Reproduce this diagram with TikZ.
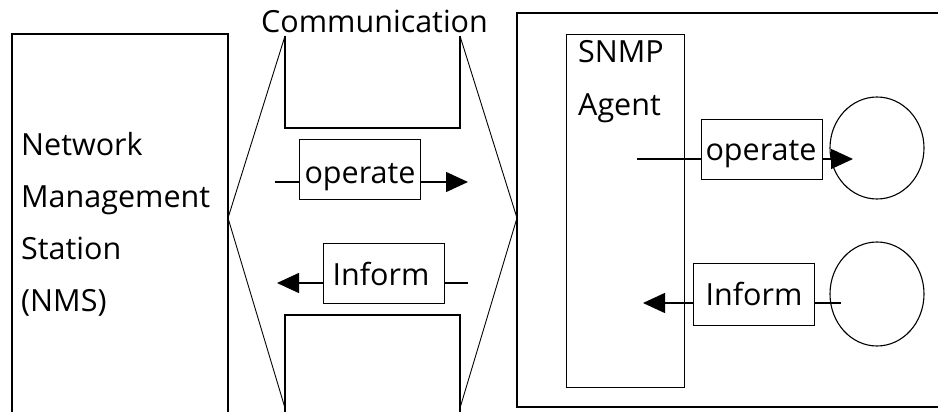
\documentclass[tikz,border=0pt]{standalone}
\usepackage{fontspec}
\setmainfont{Open Sans}
\usetikzlibrary{arrows.meta,shapes.geometric}
\begin{document}
\begin{tikzpicture}[x=1pt,y=-1pt,
  txt/.style={inner sep=0pt,font=\fontsize{30.5pt}{36pt}\selectfont},
  frame/.style={line width=1.4pt},
  boxn/.style={draw,line width=1.4pt,inner sep=0pt,anchor=north west},
  diag/.style={line width=0.9pt},
  arr/.style={line width=1.4pt,-{Triangle[length=22pt,width=20pt]}},
  res/.style={draw,ellipse,line width=1.1pt,inner sep=0pt}]
\useasboundingbox (0,0) rectangle (938,412);
% NMS box (open at bottom)
\draw[frame] (12,412) -- (12,34) -- (228,34) -- (228,412);
\coordinate (nmsR) at (228,218);
\node[txt,anchor=base west] (t1) at (21,155) {Network};
\node[txt,anchor=base west] (t2) at (21,207) {Management};
\node[txt,anchor=base west] (t3) at (21,259) {Station};
\node[txt,anchor=base west] (t4) at (21,311) {(NMS)};
% communication channel
\node[txt,anchor=base west] (comm) at (261,33) {Communication};
\coordinate (ctl) at (285,36);
\coordinate (ctr) at (460,36);
\coordinate (cbl) at (285,408);
\coordinate (cbr) at (460,408);
\coordinate (agL) at (517,218);
\draw[frame] (285,36) -- (285,128) -- (460,128) -- (460,36);
\draw[frame] (285,412) -- (285,315) -- (460,315) -- (460,412);
\draw[diag] (ctl) -- (nmsR) -- (cbl);
\draw[diag] (ctr) -- (agL) -- (cbr);
% middle operate
\node[boxn,minimum width=121pt,minimum height=60pt] (opA) at (299,139) {};
\node[txt,anchor=base] (opAt) at (360,183) {operate};
\coordinate (opAs) at (275,182);
\coordinate (opAe) at (468,182);
\draw[frame] (opAs) -- (opAs -| opA.west);
\draw[arr] (opAs -| opA.east) -- (opAe);
% middle inform
\node[boxn,minimum width=121pt,minimum height=60pt] (infA) at (323,243) {};
\node[txt,anchor=base] (infAt) at (381,285) {Inform};
\coordinate (infAs) at (468,283);
\coordinate (infAe) at (277,283);
\draw[frame] (infAs) -- (infAs -| infA.east);
\draw[arr] (infAs -| infA.west) -- (infAe);
% agent side outer frame (open at right)
\draw[frame] (945,13) -- (517,13) -- (517,407) -- (945,407);
\node[boxn,minimum width=118pt,minimum height=353pt] (agent) at (566,34) {};
\node[txt,anchor=base west] (snmp) at (578,63) {SNMP};
\node[txt,anchor=base west] (agt) at (578,115) {Agent};
% resources
\node[res,minimum width=94pt,minimum height=102pt] (r1) at (877,148) {};
\node[res,minimum width=94pt,minimum height=104pt] (r2) at (877,294) {};
% right operate
\node[boxn,minimum width=121pt,minimum height=60pt] (opB) at (701,119) {};
\node[txt,anchor=base] (opBt) at (761,160) {operate};
\coordinate (opBs) at (637,159);
\coordinate (opBe) at (853,159);
\draw[frame] (opBs) -- (opBs -| opB.west);
\draw[arr] (opBs -| opB.east) -- (opBe);
% right inform
\node[boxn,minimum width=121pt,minimum height=62pt] (infB) at (693,263) {};
\node[txt,anchor=base] (infBt) at (754,305) {Inform};
\coordinate (infBs) at (841,303);
\coordinate (infBe) at (643,303);
\draw[frame] (infBs) -- (infBs -| infB.east);
\draw[arr] (infBs -| infB.west) -- (infBe);
\end{tikzpicture}
\end{document}
